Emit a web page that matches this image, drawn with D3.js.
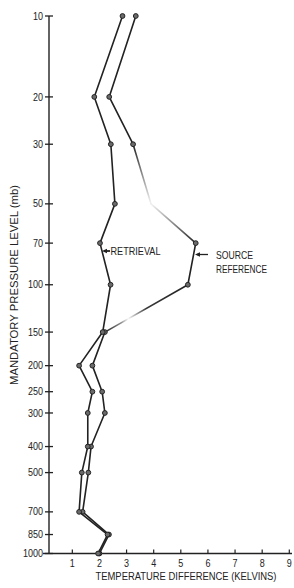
<!DOCTYPE html>
<html>
<head>
<meta charset="utf-8">
<script src="https://cdn.jsdelivr.net/npm/d3@7"></script>
<style>
html,body{margin:0;padding:0;background:#fff;}
svg{display:block;font-family:"Liberation Sans",Arial,sans-serif;}
</style>
</head>
<body>
<svg id="chart" width="294" height="588"></svg>
<script>
const levels = [10, 20, 30, 50, 70, 100, 150, 200, 250, 300, 400, 500, 700, 850, 1000];
const retrieval = [2.85, 1.81, 2.42, 2.57, 2.02, 2.41, 2.12, 1.25, 1.74, 1.57, 1.57, 1.35, 1.25, 2.3, 1.95];
const sourceRef = [3.34, 2.36, 3.24, 3.9, 5.55, 5.26, 2.2, 1.74, 2.1, 2.2, 1.69, 1.59, 1.38, 2.35, 2.0];
const xTicks = [1, 2, 3, 4, 5, 6, 7, 8, 9];
const yTicks = [10, 20, 30, 50, 70, 100, 150, 200, 250, 300, 400, 500, 700, 850, 1000];

const svg = d3.select("#chart");
const ink = "#222";
const defs = svg.append("defs");

const x = d3.scaleLinear().domain([0, 9]).range([45.2, 289.3]);
const y = d3.scaleLog().domain([10, 1000]).range([16, 553.5]);
const axisX = 49;
const axisY = y(1000);

// y axis
svg.append("line").attr("x1", axisX).attr("x2", axisX).attr("y1", y(10)).attr("y2", axisY)
  .attr("stroke", ink).attr("stroke-width", 1.4);
const yg = svg.append("g");
yTicks.forEach(t => {
  yg.append("line").attr("x1", axisX - 4).attr("x2", axisX + 4).attr("y1", y(t)).attr("y2", y(t))
    .attr("stroke", ink).attr("stroke-width", 1.3);
  const s = String(t);
  yg.append("text").attr("x", axisX - 6).attr("y", y(t)).attr("dy", "0.36em")
    .attr("text-anchor", "end").attr("font-size", 10).attr("fill", ink)
    .attr("textLength", s.length * 5).attr("lengthAdjust", "spacingAndGlyphs")
    .text(s);
});

// x axis
svg.append("line").attr("x1", 43).attr("x2", 292).attr("y1", axisY).attr("y2", axisY)
  .attr("stroke", ink).attr("stroke-width", 1.4);
const xg = svg.append("g");
xTicks.forEach(t => {
  xg.append("line").attr("x1", x(t)).attr("x2", x(t)).attr("y1", axisY - 4).attr("y2", axisY)
    .attr("stroke", ink).attr("stroke-width", 1.2);
  xg.append("text").attr("x", x(t)).attr("y", 567)
    .attr("text-anchor", "middle").attr("font-size", 10).attr("fill", ink)
    .attr("textLength", 5).attr("lengthAdjust", "spacingAndGlyphs")
    .text(t);
});

// axis titles
svg.append("text").attr("x", 186).attr("y", 580).attr("text-anchor", "middle")
  .attr("font-size", 10).attr("fill", ink)
  .attr("textLength", 181).attr("lengthAdjust", "spacingAndGlyphs")
  .text("TEMPERATURE DIFFERENCE (KELVINS)");
svg.append("text").attr("transform", "translate(17.5,285) rotate(-90)").attr("text-anchor", "middle")
  .attr("font-size", 10.5).attr("fill", ink)
  .attr("textLength", 200).attr("lengthAdjust", "spacingAndGlyphs")
  .text("MANDATORY PRESSURE LEVEL (mb)");

// faded stretches of the reproduced source line (print wear)
const fades = {2: [1, 0.05], 3: [0.05, 1], 5: [1, 0.0]};
let gid = 0;
function segStroke(p0, p1, f) {
  if (!f) return ink;
  const id = "g" + (gid++);
  const g = defs.append("linearGradient").attr("id", id).attr("gradientUnits", "userSpaceOnUse")
    .attr("x1", x(p0[0])).attr("y1", y(p0[1])).attr("x2", x(p1[0])).attr("y2", y(p1[1]));
  if (f[1] === 0.0) {
    g.append("stop").attr("offset", 0).attr("stop-color", ink).attr("stop-opacity", 1);
    g.append("stop").attr("offset", 0.5).attr("stop-color", ink).attr("stop-opacity", 0.9);
    g.append("stop").attr("offset", 0.72).attr("stop-color", ink).attr("stop-opacity", 0.03);
    g.append("stop").attr("offset", 0.8).attr("stop-color", ink).attr("stop-opacity", 0.5);
    g.append("stop").attr("offset", 1).attr("stop-color", ink).attr("stop-opacity", 1);
  } else {
    g.append("stop").attr("offset", 0).attr("stop-color", ink).attr("stop-opacity", f[0]);
    g.append("stop").attr("offset", 1).attr("stop-color", ink).attr("stop-opacity", f[1]);
  }
  return `url(#${id})`;
}

function drawSeries(vals, faded) {
  const pts = vals.map((v, i) => [v, levels[i]]);
  const g = svg.append("g");
  for (let i = 0; i < pts.length - 1; i++) {
    g.append("line").attr("x1", x(pts[i][0])).attr("y1", y(pts[i][1]))
      .attr("x2", x(pts[i + 1][0])).attr("y2", y(pts[i + 1][1]))
      .attr("stroke", segStroke(pts[i], pts[i + 1], faded ? fades[i] : null))
      .attr("stroke-width", 1.6).attr("stroke-linecap", "round");
  }
  svg.append("g").selectAll("circle").data(pts.filter((d, i) => !(faded && i === 3))).join("circle")
    .attr("cx", d => x(d[0])).attr("cy", d => y(d[1])).attr("r", 2.4)
    .attr("fill", "#6a6a6a").attr("stroke", ink).attr("stroke-width", 1);
}
drawSeries(sourceRef, true);
drawSeries(retrieval, false);

// annotations
const ry = 251;
svg.append("line").attr("x1", x(retrieval[4]) + 4).attr("x2", 110).attr("y1", ry).attr("y2", ry)
  .attr("stroke", ink).attr("stroke-width", 1.8);
svg.append("path").attr("d", `M${x(retrieval[4]) + 2},${ry} l5,-2.2 l0,4.4 z`).attr("fill", ink);
svg.append("text").attr("x", 110.5).attr("y", ry + 3.8).attr("font-size", 10.5).attr("fill", ink)
  .attr("textLength", 50).attr("lengthAdjust", "spacingAndGlyphs").text("RETRIEVAL");

const sy = 254.5;
svg.append("line").attr("x1", 197).attr("x2", 208).attr("y1", sy).attr("y2", sy)
  .attr("stroke", ink).attr("stroke-width", 1.3);
svg.append("path").attr("d", `M195,${sy} l5,-2.2 l0,4.4 z`).attr("fill", ink);
svg.append("text").attr("x", 216).attr("y", 258.5).attr("font-size", 10.5).attr("fill", ink)
  .attr("textLength", 37).attr("lengthAdjust", "spacingAndGlyphs").text("SOURCE");
svg.append("text").attr("x", 216).attr("y", 273).attr("font-size", 10.5).attr("fill", ink)
  .attr("textLength", 51).attr("lengthAdjust", "spacingAndGlyphs").text("REFERENCE");
</script>
</body>
</html>
